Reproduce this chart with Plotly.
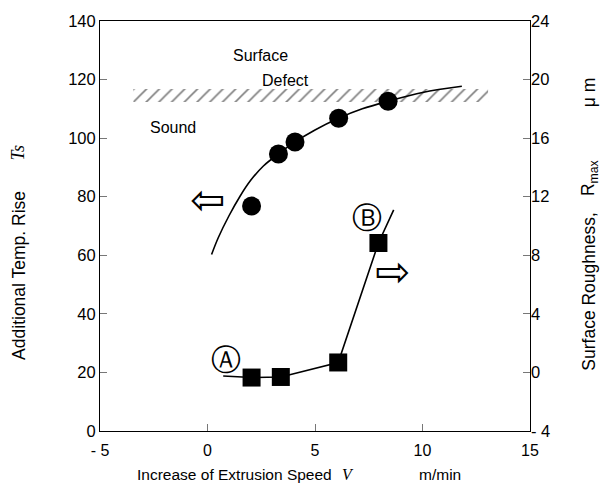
import plotly.graph_objects as go

# Data
ts_speed = [2.05, 3.3, 4.07, 6.1, 8.4]
ts_values = [76.8, 94.6, 98.7, 106.8, 112.6]
ts_fit_speed = [0.19, 0.5, 1.0, 1.5, 2.0, 2.6, 3.3, 4.07, 5.0, 6.1, 7.2, 8.4, 10.0, 11.83]
ts_fit_values = [60.3, 66.0, 73.5, 80.0, 85.5, 90.5, 94.6, 98.7, 102.8, 106.8, 110.0, 112.6, 115.6, 117.7]
rough_speed = [2.05, 3.41, 6.08, 7.95]
rough_values = [-0.35, -0.31, 0.68, 8.84]
rough_fit_speed = [0.73, 2.05, 3.41, 6.08, 7.95, 8.66]
rough_fit_values = [-0.24, -0.35, -0.31, 0.68, 8.84, 11.1]
band_x = [-3.45, 13.05, 13.05, -3.45, -3.45]
band_y = [112.3, 112.3, 116.8, 116.8, 112.3]
x_ticks = [-5, 0, 5, 10, 15]
x_ticktext = ["- 5", "0", "5", "10", "15"]
y_ticks = [0, 20, 40, 60, 80, 100, 120, 140]
y2_ticks = [-4, 0, 4, 8, 12, 16, 20, 24]
y2_ticktext = ["- 4", "0", "4", "8", "12", "16", "20", "24"]

FONT = "Liberation Sans, Arial, sans-serif"
SERIF = "Liberation Serif, Times New Roman, serif"

fig = go.Figure()
fig.add_trace(go.Scatter(x=band_x, y=band_y, mode="lines", fill="toself",
                         line=dict(width=0, color="rgba(0,0,0,0)"),
                         fillcolor="white",
                         fillpattern=dict(shape="/", fgcolor="black", bgcolor="white",
                                          size=9, solidity=0.18),
                         hoverinfo="skip", showlegend=False))
fig.add_trace(go.Scatter(x=ts_fit_speed, y=ts_fit_values, mode="lines",
                         line=dict(color="black", width=1.6, shape="spline", smoothing=1.0),
                         showlegend=False))
fig.add_trace(go.Scatter(x=ts_speed, y=ts_values, mode="markers",
                         marker=dict(symbol="circle", size=19, color="black"),
                         showlegend=False))
fig.add_trace(go.Scatter(x=rough_fit_speed, y=rough_fit_values, mode="lines",
                         line=dict(color="black", width=1.6), yaxis="y2",
                         showlegend=False))
fig.add_trace(go.Scatter(x=rough_speed, y=rough_values, mode="markers",
                         marker=dict(symbol="square", size=18, color="black"),
                         yaxis="y2", showlegend=False))

ann = []
def txt(x, y, t, family=FONT, size=16):
    ann.append(dict(x=x, y=y, xref="x", yref="y", text=t, showarrow=False,
                    xanchor="center", yanchor="middle",
                    font=dict(family=family, size=size, color="black")))

txt(2.47, 128.2, "Surface")
txt(3.64, 119.7, "Defect")
txt(-1.6, 103.5, "Sound")
txt(0.0, 79.0, "⇦", "DejaVu Sans", 42)
txt(8.6, 54.4, "⇨", "DejaVu Sans", 42)
txt(0.88, 24.5, "Ⓐ", "DejaVu Sans", 30)
txt(7.4, 73.0, "Ⓑ", "DejaVu Sans", 30)

W, H = 609, 483
L, R, T, B = 100, 79, 16, 52
pw, ph = W - L - R, H - T - B
def px(xp): return (xp - L) / pw
def py(yp): return (H - B - yp) / ph

def ptxt(xp, yp, t, family=FONT, size=16, angle=0):
    ann.append(dict(x=px(xp), y=py(yp), xref="paper", yref="paper", text=t,
                    textangle=angle, showarrow=False, xanchor="center", yanchor="middle",
                    font=dict(family=family, size=size, color="black")))

ptxt(19, 274, "Additional Temp. Rise", size=17.5, angle=-90)
ptxt(18, 150, "<i>Ts</i>", family=SERIF, size=18, angle=-90)
ptxt(589, 290, "Surface Roughness,", size=17.5, angle=-90)
ptxt(589, 175, "R<sub>max</sub>", size=17.5, angle=-90)
ptxt(589, 88, "μ m", size=17.5, angle=-90)
ptxt(234.5, 475, "Increase of Extrusion Speed", size=15.5)
ptxt(348, 475, "<i>V</i>", family=SERIF, size=16)
ptxt(440, 475, "m/min", size=15.5)

fig.update_layout(
    width=W, height=H,
    margin=dict(l=L, r=R, t=T, b=B),
    paper_bgcolor="white", plot_bgcolor="white",
    font=dict(family=FONT, size=16, color="black"),
    annotations=ann,
    xaxis=dict(range=[-5, 15], tickvals=x_ticks, ticktext=x_ticktext,
               showgrid=False, zeroline=False, showline=True, linecolor="black",
               linewidth=1, mirror=True, ticks="inside", ticklen=7, tickcolor="#777",
               tickfont=dict(size=16), ticklabelstandoff=5),
    yaxis=dict(range=[0, 140], tickvals=y_ticks, showgrid=False, zeroline=False,
               showline=True, linecolor="black", linewidth=1, mirror=True,
               ticks="inside", ticklen=7, tickcolor="#777", tickfont=dict(size=16.5)),
    yaxis2=dict(range=[-4, 24], tickvals=y2_ticks, ticktext=y2_ticktext,
                overlaying="y", side="right", showgrid=False, zeroline=False,
                showline=False, ticks="inside", ticklen=7, tickcolor="#777",
                tickfont=dict(size=16.5)),
)

fig.write_html("out.html", config={"displayModeBar": False},
               post_script="document.body.style.margin='0';document.body.style.padding='0';")
